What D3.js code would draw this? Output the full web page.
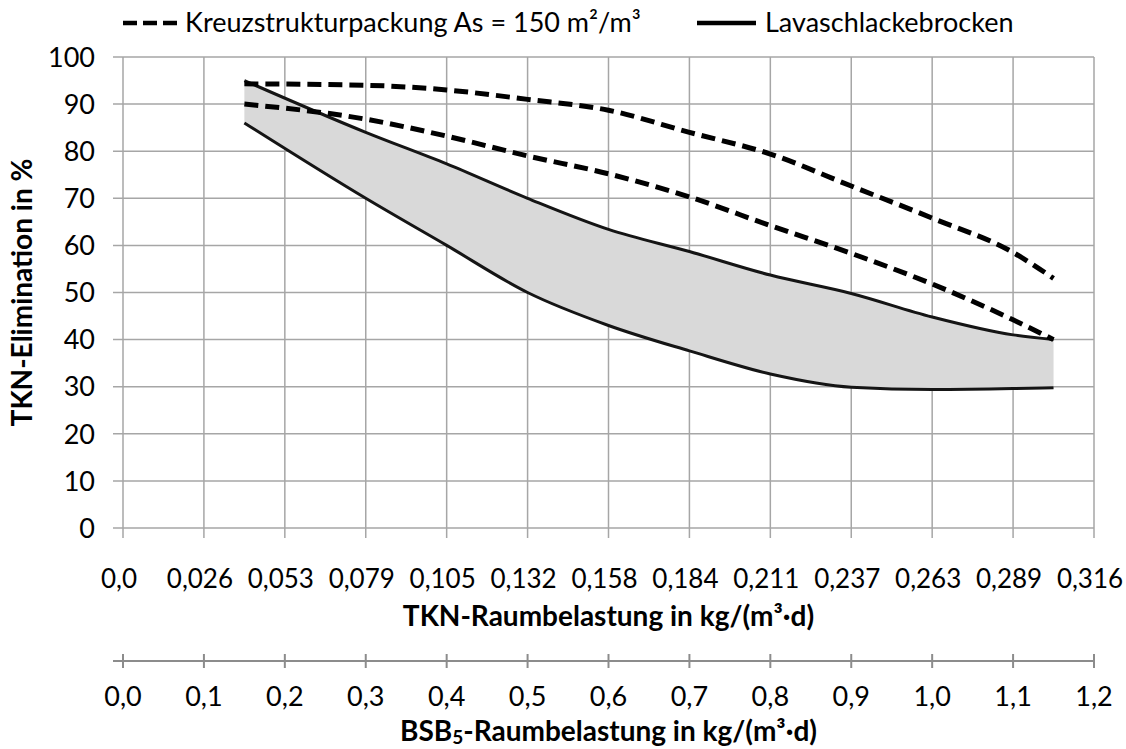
<!DOCTYPE html>
<html>
<head>
<meta charset="utf-8">
<script src="https://cdn.jsdelivr.net/npm/d3@7"></script>
<style>
  html, body { margin: 0; padding: 0; background: #fff; }
  svg { display: block; font-family: Lato, "Open Sans", sans-serif; }
</style>
</head>
<body>
<svg id="chart" width="1126" height="749"></svg>
<script>
// ---- data ----
const loadBSB = [0.15, 0.3, 0.4, 0.5, 0.6, 0.7, 0.8, 0.9, 1.0, 1.1, 1.15];
const kreuzUpper = [94.3, 94, 93, 91, 88.7, 84, 79.4, 72.6, 65.8, 58.5, 53];
const kreuzLower = [90, 86.8, 83.2, 79, 75.2, 70.3, 64.2, 58.3, 51.8, 44.2, 40];
const lavaUpper = [95, 84, 77.3, 70, 63.4, 58.7, 53.7, 49.8, 44.8, 41, 40];
const lavaLower = [86, 70, 60, 50, 43, 37.6, 32.7, 29.9, 29.4, 29.6, 29.8];

const xTickValues = [0, 0.1, 0.2, 0.3, 0.4, 0.5, 0.6, 0.7, 0.8, 0.9, 1.0, 1.1, 1.2];
const tknTickLabels = ["0,0", "0,026", "0,053", "0,079", "0,105", "0,132", "0,158", "0,184", "0,211", "0,237", "0,263", "0,289", "0,316"];
const bsbTickLabels = ["0,0", "0,1", "0,2", "0,3", "0,4", "0,5", "0,6", "0,7", "0,8", "0,9", "1,0", "1,1", "1,2"];
const yTickValues = [0, 10, 20, 30, 40, 50, 60, 70, 80, 90, 100];

const legendLabels = ["Kreuzstrukturpackung As = 150 m\u00B2/m\u00B3", "Lavaschlackebrocken"];
const yTitle = "TKN-Elimination in %";
const xTitle = "TKN-Raumbelastung in kg/(m\u00B3\u00B7d)";

// ---- layout ----
const svg = d3.select("#chart");
const plot = { left: 123, right: 1094, top: 57, bottom: 528 };
const x = d3.scaleLinear().domain([0, 1.2]).range([plot.left, plot.right]);
const y = d3.scaleLinear().domain([0, 100]).range([plot.bottom, plot.top]);
const gridColor = "#a6a6a6";
const axisColor = "#8c8c8c";
const tickFont = 27;
const tknFont = 26;
const titleFont = 28;

// grid
const g = svg.append("g");
g.selectAll("line.v").data(xTickValues).join("line")
  .attr("x1", d => x(d)).attr("x2", d => x(d))
  .attr("y1", plot.top).attr("y2", plot.bottom + 10)
  .attr("stroke", gridColor).attr("stroke-width", 1.5);
g.selectAll("line.h").data(yTickValues).join("line")
  .attr("x1", plot.left - 10).attr("x2", plot.right)
  .attr("y1", d => y(d)).attr("y2", d => y(d))
  .attr("stroke", gridColor).attr("stroke-width", 1.5);

// y tick labels
svg.append("g").selectAll("text").data(yTickValues).join("text")
  .attr("x", 95).attr("y", d => y(d)).attr("dy", "0.36em")
  .attr("text-anchor", "end").attr("font-size", tickFont).attr("fill", "#000")
  .text(d => d);

// TKN x tick labels
svg.append("g").selectAll("text").data(xTickValues).join("text")
  .attr("x", d => x(d) - 4).attr("y", 588)
  .attr("text-anchor", "middle").attr("font-size", tknFont).attr("fill", "#000")
  .text((d, i) => tknTickLabels[i]);

// area between lava curves
const lavaData = loadBSB.map((b, i) => ({ b, hi: lavaUpper[i], lo: lavaLower[i] }));
const curve = d3.curveMonotoneX;
svg.append("path").datum(lavaData)
  .attr("d", d3.area().x(d => x(d.b)).y0(d => y(d.lo)).y1(d => y(d.hi)).curve(curve))
  .attr("fill", "#d9d9d9");

const line = d3.line().x(d => x(d.b)).y(d => y(d.v)).curve(curve);
function series(vals) { return loadBSB.map((b, i) => ({ b, v: vals[i] })); }

[lavaUpper, lavaLower].forEach(vals => {
  svg.append("path").datum(series(vals)).attr("d", line)
    .attr("fill", "none").attr("stroke", "#151515").attr("stroke-width", 3)
    .attr("stroke-linejoin", "round");
});
[kreuzUpper, kreuzLower].forEach(vals => {
  svg.append("path").datum(series(vals)).attr("d", line)
    .attr("fill", "none").attr("stroke", "#000").attr("stroke-width", 5)
    .attr("stroke-dasharray", "14,7");
});

// legend
const leg = svg.append("g");
leg.append("line").attr("x1", 123).attr("x2", 177).attr("y1", 23).attr("y2", 23)
  .attr("stroke", "#000").attr("stroke-width", 4.5).attr("stroke-dasharray", "14,6");
leg.append("text").attr("x", 185).attr("y", 32).attr("font-size", 27).text(legendLabels[0]);
leg.append("line").attr("x1", 697).attr("x2", 756).attr("y1", 23).attr("y2", 23)
  .attr("stroke", "#000").attr("stroke-width", 4.5);
leg.append("text").attr("x", 765).attr("y", 32).attr("font-size", 27).text(legendLabels[1]);

// titles
svg.append("text").attr("transform", `translate(32, ${(plot.top + plot.bottom) / 2}) rotate(-90)`)
  .attr("text-anchor", "middle").attr("font-size", 28).attr("font-weight", "bold")
  .text(yTitle);
svg.append("text").attr("x", (plot.left + plot.right) / 2).attr("y", 626)
  .attr("text-anchor", "middle").attr("font-size", titleFont).attr("font-weight", "bold")
  .text(xTitle);

// second axis (BSB)
const ax2Y = 661;
const ax2 = svg.append("g");
ax2.append("line").attr("x1", plot.left - 10).attr("x2", plot.right)
  .attr("y1", ax2Y).attr("y2", ax2Y).attr("stroke", axisColor).attr("stroke-width", 2);
ax2.selectAll("line.t").data(xTickValues).join("line")
  .attr("x1", d => x(d)).attr("x2", d => x(d))
  .attr("y1", ax2Y - 7).attr("y2", ax2Y + 7)
  .attr("stroke", axisColor).attr("stroke-width", 2);
ax2.selectAll("text").data(xTickValues).join("text")
  .attr("x", d => x(d)).attr("y", 706)
  .attr("text-anchor", "middle").attr("font-size", tickFont)
  .text((d, i) => bsbTickLabels[i]);

const t2 = svg.append("text").attr("x", (plot.left + plot.right) / 2).attr("y", 741)
  .attr("text-anchor", "middle").attr("font-size", titleFont).attr("font-weight", "bold");
t2.append("tspan").text("BSB");
t2.append("tspan").attr("font-size", 19).attr("dy", 3).text("5");
t2.append("tspan").attr("dy", -3).text("-Raumbelastung in kg/(m\u00B3\u00B7d)");
</script>
</body>
</html>
